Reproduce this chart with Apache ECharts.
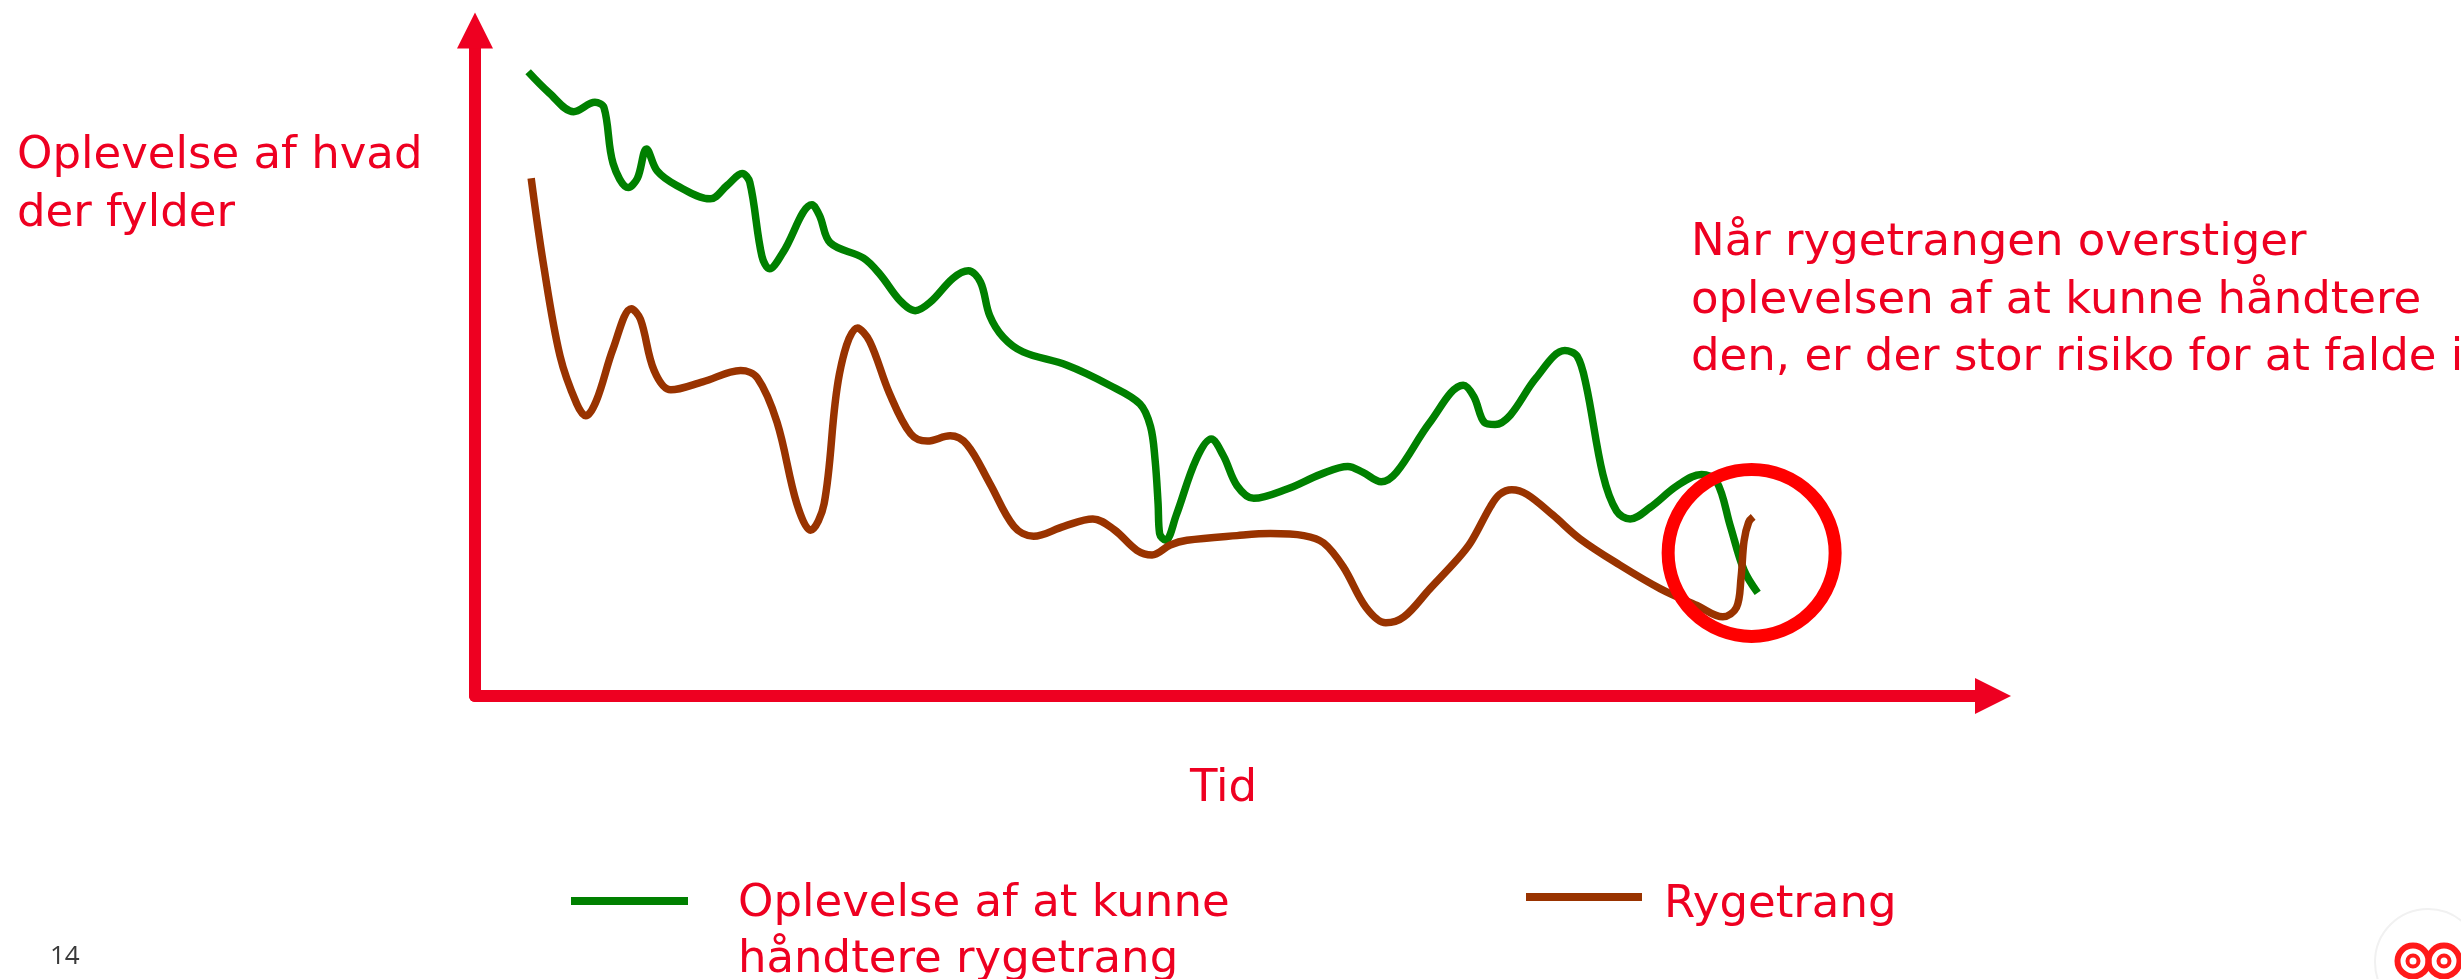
<!DOCTYPE html>
<html>
<head>
<meta charset="utf-8">
<title>Rygetrang over tid</title>
<script src="https://cdn.jsdelivr.net/npm/echarts@6/dist/echarts.min.js"></script>
<style>
  html, body { margin: 0; padding: 0; background: #fff; }
  #chart { width: 2461px; height: 979px; }
</style>
</head>
<body>
<div id="chart"></div>
<script>
// Aflæst fra tegningen: tid (x) og niveau (y) på en skala 0-100
var haandtereX = [3.5, 4.9, 6.5, 7.9, 8.5, 9.1, 10.1, 10.7, 11.3, 12.0, 13.3, 15.5, 16.6, 17.6, 18.1, 18.9, 19.4, 20.3,
  22.2, 22.7, 23.4, 25.6, 26.7, 28.0, 29.0, 30.0, 31.5, 32.5, 33.3, 33.9, 34.8, 36.1, 39.0, 41.8, 43.8, 44.5, 44.8,
  45.0, 45.1, 45.5, 46.2, 47.5, 48.5, 49.3, 50.2, 51.3, 53.5, 55.7, 57.5, 58.5, 59.7, 60.7, 62.9, 65.1, 65.8, 66.5,
  67.2, 68.2, 69.9, 71.8, 72.6, 73.2, 74.3, 75.2, 76.1, 77.4, 79.2, 80.8, 81.8, 82.7, 83.6, 84.5];
var haandtereY = [93.8, 90.6, 87.8, 89.2, 88.4, 80.0, 76.4, 77.8, 82.2, 78.9, 76.7, 74.7, 76.7, 78.5, 77.2, 66.1, 64.2, 66.7,
  73.8, 72.2, 68.1, 65.8, 63.3, 59.4, 57.9, 59.2, 62.8, 63.9, 62.2, 57.2, 53.9, 51.7, 49.7, 46.7, 43.9, 40.5, 35.5,
  28.9, 24.4, 23.4, 27.2, 35.5, 38.6, 36.1, 31.6, 29.7, 31.1, 33.3, 34.5, 33.6, 32.2, 33.6, 41.1, 46.7, 45.0, 41.1,
  40.8, 42.2, 47.8, 51.9, 51.1, 46.7, 33.3, 27.8, 26.6, 28.3, 31.6, 33.3, 32.2, 25.5, 18.9, 15.5];

var trangX = [3.7, 4.5, 5.6, 6.7, 7.3, 8.0, 9.1, 10.3, 10.9, 11.8, 12.9, 15.0, 17.5, 18.6, 19.9, 21.2, 22.1, 23.0, 24.0,
  25.2, 26.0, 27.3, 28.7, 29.8, 31.3, 32.4, 33.9, 35.5, 36.8, 38.8, 40.7, 42.1, 43.6, 44.6, 45.8, 46.9, 50.2, 52.4,
  54.6, 55.9, 57.2, 58.7, 60.0, 61.2, 62.9, 64.7, 65.6, 66.9, 67.5, 68.3, 69.3, 71.0, 72.8, 75.4, 78.1, 80.5, 82.2,
  83.1, 83.4, 83.6, 83.9, 84.2];
var trangY = [77.8, 65.0, 51.1, 43.9, 42.1, 44.4, 52.2, 58.2, 56.6, 48.9, 46.0, 47.2, 48.9, 47.8, 41.1, 28.9, 24.9, 28.9, 48.3,
  55.3, 53.3, 45.5, 39.4, 38.3, 39.1, 37.8, 32.0, 25.5, 24.0, 25.5, 26.6, 25.0, 21.9, 21.2, 22.7, 23.4, 24.1, 24.4,
  24.1, 23.0, 19.4, 13.3, 11.0, 11.9, 16.1, 20.5, 23.1, 28.5, 30.3, 31.0, 30.3, 27.2, 23.6, 19.7, 16.1, 13.6, 11.9,
  13.3, 17.7, 23.3, 26.1, 26.9];

// stedet hvor rygetrangen overstiger oplevelsen
var risikoPunkt = [84.1, 21.5];

var navnHaandtere = 'Oplevelse af at kunne håndtere rygetrang';
var navnTrang = 'Rygetrang';

var ROED = '#EE0021';
var FONT = '"DejaVu Sans", "Open Sans", sans-serif';
var FS = 45;

function par(xs, ys) {
  return xs.map(function (x, i) { return [x, ys[i]]; });
}

// tekst-stil til legenden; "sp" er en usynlig linje der skubber teksten lidt ned
function legendTekst(spacer, venstre) {
  return {
    color: ROED, fontFamily: FONT, fontSize: FS, lineHeight: 56,
    padding: [0, 0, 0, venstre],
    rich: {
      sp: { fontSize: 1, lineHeight: spacer },
      t: { color: ROED, fontFamily: FONT, fontSize: FS, lineHeight: 56 }
    }
  };
}

var chart = echarts.init(document.getElementById('chart'));

var option = {
  animation: false,
  backgroundColor: '#fff',
  grid: {
    left: 475, right: 468, top: 30.5, bottom: 283,
    containLabel: false,
    outerBoundsMode: 'none'
  },
  xAxis: {
    type: 'value',
    min: 0, max: 100,
    name: 'Tid',
    nameLocation: 'middle',
    nameGap: 65,
    nameTextStyle: { color: ROED, fontFamily: FONT, fontSize: FS, lineHeight: 56, padding: [0, 21, 0, 0] },
    axisLine: {
      show: true,
      symbol: ['none', 'triangle'],
      symbolSize: [36, 36],
      lineStyle: { color: ROED, width: 12 }
    },
    axisTick: { show: false },
    axisLabel: { show: false },
    splitLine: { show: false }
  },
  yAxis: {
    type: 'value',
    min: 0, max: 100,
    axisLine: {
      show: true,
      symbol: ['none', 'triangle'],
      symbolSize: [36, 36],
      lineStyle: { color: ROED, width: 12 }
    },
    axisTick: { show: false },
    axisLabel: { show: false },
    splitLine: { show: false }
  },
  legend: [
    {
      data: [navnHaandtere],
      left: 571, top: 814,
      padding: 0,
      icon: 'rect',
      itemWidth: 117, itemHeight: 8,
      formatter: function () { return '{sp| }\n{t|Oplevelse af at kunne}\n{t|håndtere rygetrang}'; },
      textStyle: legendTekst(62, 45)
    },
    {
      data: [navnTrang],
      left: 1526, top: 861,
      padding: 0,
      icon: 'rect',
      itemWidth: 116, itemHeight: 8,
      formatter: function (name) { return '{sp| }\n{t|' + name + '}'; },
      textStyle: legendTekst(16, 17)
    }
  ],
  series: [
    {
      name: navnHaandtere,
      type: 'line',
      data: par(haandtereX, haandtereY),
      color: '#008000',
      smooth: 0.35,
      showSymbol: false,
      symbol: 'none',
      lineStyle: { color: '#008000', width: 7.5, join: 'round' }
    },
    {
      name: navnTrang,
      type: 'line',
      data: par(trangX, trangY),
      color: '#993300',
      smooth: 0.35,
      showSymbol: false,
      symbol: 'none',
      lineStyle: { color: '#993300', width: 7.5, join: 'round' },
      markPoint: {
        silent: true,
        symbol: 'circle',
        symbolSize: 167,
        label: { show: false },
        itemStyle: { color: 'transparent', borderColor: '#FF0000', borderWidth: 13 },
        data: [{ coord: risikoPunkt }]
      }
    }
  ],
  graphic: [
    {
      type: 'text', x: 17, y: 127,
      style: {
        text: 'Oplevelse af hvad\nder fylder',
        fontFamily: FONT, fontSize: FS, lineHeight: 58,
        fill: ROED, align: 'left', verticalAlign: 'top'
      }
    },
    {
      type: 'text', x: 1691, y: 215,
      style: {
        text: 'Når rygetrangen overstiger\noplevelsen af at kunne håndtere\nden, er der stor risiko for at falde i',
        fontFamily: FONT, fontSize: FS, lineHeight: 57.5,
        fill: ROED, align: 'left', verticalAlign: 'top'
      }
    },
    {
      type: 'text', x: 50, y: 944,
      style: {
        text: '14',
        fontFamily: '"Open Sans", sans-serif', fontSize: 26, lineHeight: 26,
        fill: '#3a3a3a', align: 'left', verticalAlign: 'top'
      }
    },
    // logo nederst til højre
    {
      type: 'circle', shape: { cx: 2428, cy: 962, r: 53 },
      style: { fill: 'none', stroke: '#f1f1f1', lineWidth: 2 }
    },
    {
      type: 'circle', shape: { cx: 2413, cy: 961, r: 15.5 },
      style: { fill: 'none', stroke: '#FF1A1A', lineWidth: 6 }
    },
    {
      type: 'circle', shape: { cx: 2413, cy: 961, r: 5.5 },
      style: { fill: 'none', stroke: '#FF1A1A', lineWidth: 4 }
    },
    {
      type: 'circle', shape: { cx: 2444, cy: 961, r: 15.5 },
      style: { fill: 'none', stroke: '#FF1A1A', lineWidth: 6 }
    },
    {
      type: 'circle', shape: { cx: 2444, cy: 961, r: 5.5 },
      style: { fill: 'none', stroke: '#FF1A1A', lineWidth: 4 }
    }
  ]
};

chart.setOption(option);
window.addEventListener('resize', function () {
  chart.resize();
});
</script>
</body>
</html>
